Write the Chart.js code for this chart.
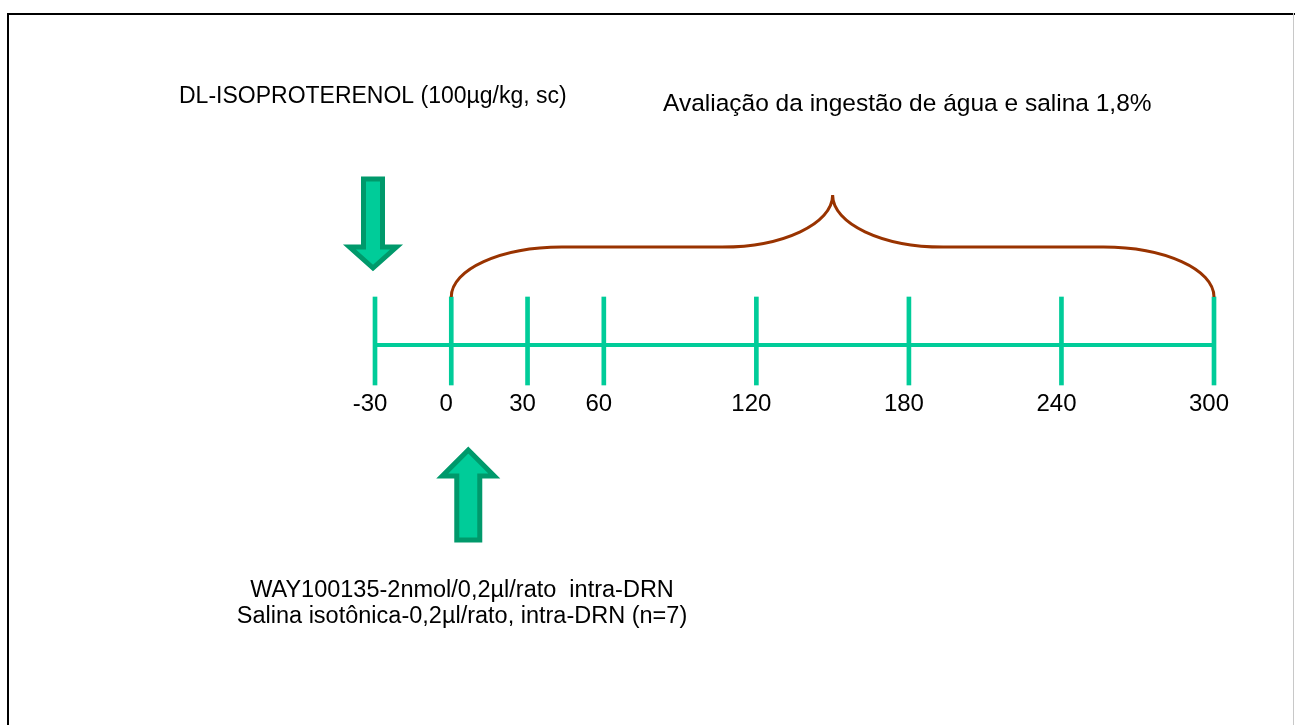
<!DOCTYPE html>
<html>
<head>
<meta charset="utf-8">
<script src="https://cdn.jsdelivr.net/npm/chart.js@4.4.1/dist/chart.umd.min.js"></script>
<style>
  html, body { margin: 0; padding: 0; background: #fff; width: 1295px; height: 725px; overflow: hidden; }
  #frame { position: absolute; left: 7px; top: 13px; width: 1300px; height: 800px;
           border-top: 2px solid #000; border-left: 2px solid #000; box-sizing: border-box; }
  #rline { position: absolute; left: 1293px; top: 13px; width: 1px; height: 800px; background: #c8c8c8; }
  #c { position: absolute; left: 0; top: 0; }
</style>
</head>
<body>
<div id="frame"></div>
<div id="rline"></div>
<canvas id="c" width="1295" height="725"></canvas>
<script>
// ---- data ----
const timePoints = [-30, 0, 30, 60, 120, 180, 240, 300];          // minutes
const tickLabels = ['-30', '0', '30', '60', '120', '180', '240', '300'];
const timelineStart = -30;
const timelineEnd = 300;
const evalStart = 0;       // brace start (min)
const evalEnd = 300;       // brace end (min)
const isoproterenolTime = -30;
const wayTime = 0;
const textIso = 'DL-ISOPROTERENOL (100\u00b5g/kg, sc)';
const textEval = 'Avalia\u00e7\u00e3o da ingest\u00e3o de \u00e1gua e salina 1,8%';
const textWay1 = 'WAY100135-2nmol/0,2\u00b5l/rato  intra-DRN';
const textWay2 = 'Salina isot\u00f4nica-0,2\u00b5l/rato, intra-DRN (n=7)';

const GREEN = '#00CC99';
const DARKGREEN = '#00996B';
const BROWN = '#993300';
const FONT = '"Liberation Sans", Arial, sans-serif';

const tickMarks = timePoints.map(t => ({ x: t, y: [-40, 48] }));

function arrow(ctx, cx, tipY, baseY, shaftW, headW, headLen, dir) {
  // dir = 1 pointing down (tip below), -1 pointing up
  const hs = shaftW / 2, hh = headW / 2;
  const headBase = tipY - dir * headLen;
  ctx.beginPath();
  ctx.moveTo(cx - hs, baseY);
  ctx.lineTo(cx - hs, headBase);
  ctx.lineTo(cx - hh, headBase);
  ctx.lineTo(cx, tipY);
  ctx.lineTo(cx + hh, headBase);
  ctx.lineTo(cx + hs, headBase);
  ctx.lineTo(cx + hs, baseY);
  ctx.closePath();
  ctx.fillStyle = GREEN;
  ctx.fill();
  ctx.lineWidth = 5;
  ctx.lineJoin = 'miter';
  ctx.strokeStyle = DARKGREEN;
  ctx.stroke();
}

const decor = {
  id: 'decor',
  afterDatasetsDraw(chart) {
    const ctx = chart.ctx;
    const xs = chart.scales.x, ys = chart.scales.y;
    ctx.save();
    // tick labels
    ctx.fillStyle = '#000';
    ctx.font = '24px ' + FONT;
    ctx.textAlign = 'center';
    ctx.textBaseline = 'alphabetic';
    timePoints.forEach((t, i) => {
      ctx.fillText(tickLabels[i], xs.getPixelForValue(t) - 5, ys.getPixelForValue(-66));
    });
    // brace over evaluation period
    const x0 = xs.getPixelForValue(evalStart), x1 = xs.getPixelForValue(evalEnd);
    const yEnd = ys.getPixelForValue(48), yMid = ys.getPixelForValue(98), yPeak = ys.getPixelForValue(150);
    const mid = (x0 + x1) / 2;
    const rx = (x1 - x0) * 0.145;
    const k = 0.5523;
    const dyE = yEnd - yMid, dyP = yMid - yPeak;
    ctx.beginPath();
    ctx.moveTo(x0, yEnd);
    ctx.bezierCurveTo(x0, yEnd - k * dyE, x0 + rx - k * rx, yMid, x0 + rx, yMid);
    ctx.lineTo(mid - rx, yMid);
    ctx.bezierCurveTo(mid - rx + k * rx, yMid, mid, yPeak + k * dyP, mid, yPeak);
    ctx.bezierCurveTo(mid, yPeak + k * dyP, mid + rx - k * rx, yMid, mid + rx, yMid);
    ctx.lineTo(x1 - rx, yMid);
    ctx.bezierCurveTo(x1 - rx + k * rx, yMid, x1, yEnd - k * dyE, x1, yEnd);
    ctx.lineWidth = 3;
    ctx.strokeStyle = BROWN;
    ctx.stroke();
    // arrows
    const ax = xs.getPixelForValue(isoproterenolTime) - 2;
    arrow(ctx, ax, ys.getPixelForValue(77), ys.getPixelForValue(166), 19, 47, 21, 1);
    const bx = xs.getPixelForValue(wayTime) + 17;
    arrow(ctx, bx, ys.getPixelForValue(-105), ys.getPixelForValue(-195), 23, 52, 26, -1);
    // annotation texts
    ctx.fillStyle = '#000';
    ctx.textAlign = 'left';
    ctx.font = '23px ' + FONT;
    ctx.fillText(textIso, 179, 103);
    ctx.font = '24.5px ' + FONT;
    ctx.fillText(textEval, 663, 111);
    ctx.textAlign = 'center';
    ctx.font = '23.5px ' + FONT;
    ctx.fillText(textWay1, 462, 597);
    ctx.fillText(textWay2, 462, 623);
    ctx.restore();
  }
};

new Chart(document.getElementById('c'), {
  type: 'bar',
  data: {
    datasets: [
      {
        type: 'line',
        data: [{ x: timelineStart, y: 0 }, { x: timelineEnd, y: 0 }],
        borderColor: GREEN,
        borderWidth: 4,
        pointRadius: 0,
        clip: false
      },
      {
        type: 'bar',
        data: tickMarks,
        backgroundColor: GREEN,
        borderWidth: 0,
        barThickness: 4,
        clip: false
      }
    ]
  },
  options: {
    responsive: false,
    animation: false,
    layout: { padding: { left: 375, right: 81, top: 0, bottom: 0 } },
    plugins: { legend: { display: false }, tooltip: { enabled: false } },
    scales: {
      x: { type: 'linear', min: timelineStart, max: timelineEnd, offset: false, display: false },
      y: { type: 'linear', min: -380, max: 345, display: false }
    }
  },
  plugins: [decor]
});
</script>
</body>
</html>
